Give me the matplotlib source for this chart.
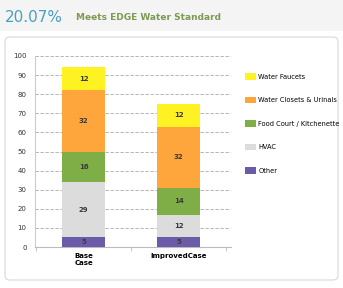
import matplotlib.pyplot as plt
import numpy as np
from matplotlib.patches import FancyBboxPatch, Rectangle

cases = ["Base\nCase", "ImprovedCase"]
series = ["Other", "HVAC", "Food Court / Kitchenette", "Water Closets & Urinals", "Water Faucets"]
other = [5, 5]
hvac = [29, 12]
food = [16, 14]
closets = [32, 32]
faucets = [12, 12]
values = [other, hvac, food, closets, faucets]
colors = ["#6b5ba8", "#dcdcdc", "#7fae46", "#fea53c", "#fff222"]

fig = plt.figure(figsize=(3.43, 2.88), dpi=100)

# header band and panel
fig.patches.append(Rectangle((0, 1 - 31/288), 1, 31/288, transform=fig.transFigure,
                             facecolor="#f4f4f4", edgecolor="none", zorder=-2))
fig.patches.append(FancyBboxPatch((5/343, 8/288), 333/343, 243/288, transform=fig.transFigure,
                                  boxstyle="round,pad=0,rounding_size=0.015",
                                  facecolor="white", edgecolor="#d8d8d8", lw=0.8, zorder=-1))
fig.text(5/343, 1 - 18/288, "20.07%", fontsize=11, color="#4aa0bf", va="center", ha="left")
fig.text(76/343, 1 - 18/288, "Meets EDGE Water Standard", fontsize=6.5, color="#7c9a52",
         fontweight="bold", va="center", ha="left")

ax = fig.add_axes([35/343, 1 - 247/288, 196/343, 191/288])
ax.set_zorder(2)
ax.patch.set_alpha(0)
x = np.arange(len(cases))
bottom = np.zeros(len(cases))
for name, vals, c in zip(series, values, colors):
    bars = ax.bar(x, vals, width=0.45, bottom=bottom, color=c, label=name, zorder=3)
    for xi, v, b in zip(x, vals, bottom):
        ax.text(xi, b + v / 2, str(v), ha="center", va="center", fontsize=5,
                fontweight="bold", color="#3a3a3a", zorder=4)
    bottom += np.array(vals)

ax.set_ylim(0, 100)
ax.set_xlim(-0.51, 1.55)
ax.set_yticks(range(0, 101, 10))
ax.set_xticks(x)
ax.set_xticklabels(cases, fontsize=5, fontweight="bold")
ax.tick_params(axis="y", labelsize=5, length=0, pad=6, colors="#333333")
ax.tick_params(axis="x", length=0, pad=4)
ax.set_xticks([-0.5, 0.5, 1.5], minor=True)
ax.tick_params(axis="x", which="minor", length=3, color="#bbbbbb")
ax.yaxis.grid(True, ls=(0, (4, 2)), color="#aaaaaa", lw=0.6, zorder=0)
for s in ["top", "right"]:
    ax.spines[s].set_visible(False)
ax.spines["left"].set_color("#cccccc")
ax.spines["bottom"].set_color("#bbbbbb")

h, l = ax.get_legend_handles_labels()
fig.legend(h[::-1], l[::-1], loc="upper left", bbox_to_anchor=(239/343, 1 - 67/288),
           frameon=False, fontsize=4.8, handlelength=1.6, handleheight=1.2,
           labelspacing=2.5, handletextpad=0.4)

fig.savefig("out.png", dpi=100)
